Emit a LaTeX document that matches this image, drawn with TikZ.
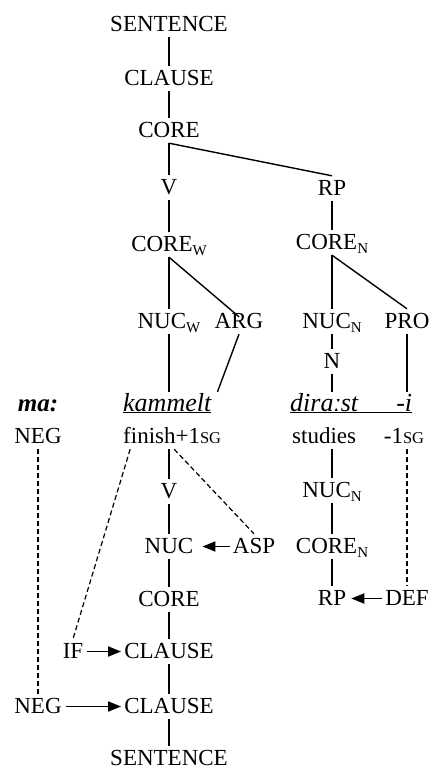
\documentclass[tikz,border=0pt]{standalone}
\usepackage{fontspec}
\setmainfont{Liberation Serif}
\usetikzlibrary{arrows.meta}

% subscript and small-caps helpers
\newcommand{\sbs}[1]{\raisebox{-4pt}{\fontsize{15}{15}\selectfont #1}}
\newcommand{\smc}[1]{{\fontsize{16.5}{16.5}\selectfont #1}}

\tikzset{
  lab/.style={font=\fontsize{23}{23}\selectfont, anchor=base,
    text height=15pt, text depth=2pt, inner xsep=3pt, inner ysep=4pt},
  word/.style={lab, font=\fontsize{26}{26}\selectfont\itshape},
  branch/.style={line width=1.8pt},
  slant/.style={line width=1.4pt},
  link/.style={line width=1.2pt, dash pattern=on 5pt off 3pt},
  op/.style={line width=1.8pt, -{Triangle[length=13pt,width=10pt]}},
}

\begin{document}
\begin{tikzpicture}[x=1pt, y=-1pt]
\useasboundingbox (0,0) rectangle (430,769);

% ---- upper tree ----
\node[lab] (sent)  at (169,31)  {SENTENCE};
\node[lab] (cl)    at (169,85)  {CLAUSE};
\node[lab] (core)  at (169,137) {CORE};
\node[lab] (v)     at (169,194) {V};
\node[lab] (rp)    at (332,195) {RP};
\node[lab] (corew) at (169,251) {CORE\sbs{W}};
\node[lab] (coren) at (332,249) {CORE\sbs{N}};
\node[lab] (nucw)  at (169,328) {NUC\sbs{W}};
\node[lab] (arg)   at (239,328) {ARG};
\node[lab] (nucn)  at (332,328) {NUC\sbs{N}};
\node[lab] (pro)   at (407,328) {PRO};
\node[lab] (n)     at (332,368) {N};

% ---- words and glosses ----
\node[lab, font=\fontsize{25}{25}\selectfont\bfseries\itshape] (ma) at (38,411) {ma:};
\node[word, anchor=base west, inner xsep=0pt] (kam) at (123,411) {\underline{kammelt}};
\node[word, anchor=base west, inner xsep=0pt] (dira) at (290,411)
  {\underline{\makebox[122pt][l]{dira\char"02D0 st\hfill -i}}};
\node[lab] (neg1) at (38,443)  {NEG};
\node[lab, anchor=base west, inner xsep=0pt] (fin) at (123,443) {finish+1\smc{SG}};
\node[lab, anchor=base west, inner xsep=0pt] (stud) at (292,443) {studies};
\node[lab] (sg) at (404,443) {-1\smc{SG}};

% ---- lower tree, verb ----
\node[lab] (v2)    at (169,498) {V};
\node[lab] (nuc)   at (169,553) {NUC};
\node[lab] (asp)   at (254,553) {ASP};
\node[lab] (core2) at (169,606) {CORE};
\node[lab] (if)    at (73,658)  {IF};
\node[lab] (cl2)   at (169,658) {CLAUSE};
\node[lab] (neg2)  at (38,713)  {NEG};
\node[lab] (cl3)   at (169,713) {CLAUSE};
\node[lab] (sent2) at (169,765) {SENTENCE};

% ---- lower tree, noun ----
\node[lab] (nucn2)  at (332,497) {NUC\sbs{N}};
\node[lab] (coren2) at (332,553) {CORE\sbs{N}};
\node[lab] (rp2)    at (332,605) {RP};
\node[lab] (def)    at (407,605) {DEF};

% ---- upper branches ----
\draw[branch] (sent) -- (cl);
\draw[branch] (cl) -- (core);
\draw[branch] (core) -- (v);
\draw[slant]  (core.south) -- (rp.north);
\draw[branch] (v) -- (corew);
\draw[branch] (rp) -- (coren);
\draw[branch] (corew.south) -- (nucw.north);
\draw[slant]  (corew.south) -- ([yshift=-8pt]arg.north);
\draw[branch] (coren.south) -- (nucn.north);
\draw[slant]  (coren.south) -- (pro.north);
\draw[branch] (nucw.south) -- (nucw.south |- kam.north);
\draw[slant]  (arg.south) -- ([xshift=6pt]kam.north east);
\draw[branch] (nucn) -- (n);
\draw[branch] (n.south) -- (n.south |- dira.north);
\draw[branch] (pro.south) -- (pro.south |- dira.north);

% ---- lower branches ----
\draw[branch] (v2.north |- fin.south) -- (v2.north);
\draw[branch] (v2) -- (nuc);
\draw[branch] (nuc) -- (core2);
\draw[branch] (core2) -- (cl2);
\draw[branch] (cl2) -- (cl3);
\draw[branch] (cl3) -- (sent2);
\draw[branch] (nucn2.north |- stud.south) -- (nucn2.north);
\draw[branch] (nucn2) -- (coren2);
\draw[branch] (coren2) -- (rp2);

% ---- operator arrows ----
\draw[op, shorten >=6pt] (asp.west) -- (nuc.east);
\draw[op, shorten <=1pt] (if.east) -- (cl2.west);
\draw[op, shorten <=1pt] (neg2.east) -- (cl3.west);
\draw[op, shorten >=2pt] (def.west) -- (rp2.east);

% ---- morpheme links ----
\draw[link] (neg1.south) -- (neg2.north);
\draw[link] ([xshift=-42pt]fin.south) -- (if.north);
\draw[link] ([xshift=2pt]fin.south) -- (asp.north);
\draw[link] (sg.south -| def.north) -- (def.north);
\end{tikzpicture}
\end{document}
